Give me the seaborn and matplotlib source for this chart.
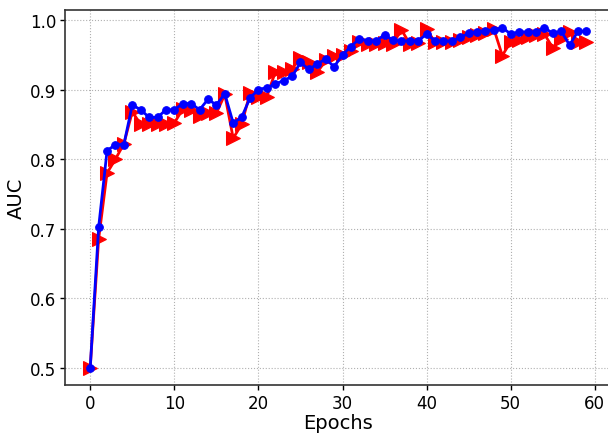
import matplotlib
matplotlib.use("Agg")
import matplotlib.pyplot as plt
import seaborn as sns
import numpy as np
import pandas as pd

epochs = list(range(60))

auc_red = [0.500, 0.685, 0.780, 0.800, 0.822, 0.868, 0.850, 0.850, 0.850, 0.850,
           0.852, 0.872, 0.870, 0.862, 0.866, 0.866, 0.893, 0.830, 0.850, 0.895,
           0.890, 0.890, 0.925, 0.926, 0.930, 0.945, 0.940, 0.925, 0.942, 0.948,
           0.950, 0.956, 0.969, 0.966, 0.966, 0.967, 0.966, 0.986, 0.966, 0.967,
           0.987, 0.968, 0.968, 0.969, 0.972, 0.975, 0.978, 0.981, 0.987, 0.949,
           0.969, 0.972, 0.975, 0.978, 0.980, 0.960, 0.973, 0.983, 0.969, 0.969]

auc_blue = [0.500, 0.702, 0.812, 0.821, 0.821, 0.878, 0.871, 0.860, 0.860, 0.871,
            0.871, 0.880, 0.880, 0.871, 0.886, 0.878, 0.894, 0.852, 0.860, 0.888,
            0.900, 0.903, 0.908, 0.913, 0.919, 0.939, 0.929, 0.937, 0.944, 0.933,
            0.950, 0.962, 0.973, 0.970, 0.970, 0.979, 0.971, 0.970, 0.970, 0.970,
            0.980, 0.970, 0.970, 0.970, 0.975, 0.981, 0.983, 0.985, 0.986, 0.989,
            0.980, 0.983, 0.983, 0.983, 0.989, 0.981, 0.984, 0.964, 0.984, 0.984]

df = pd.DataFrame({"Epochs": epochs, "red": auc_red, "blue": auc_blue})

sns.set_style("white")
plt.rcParams['font.family'] = ['DejaVu Sans']

fig = plt.figure(figsize=(6.08, 4.35), dpi=100)
ax = fig.add_axes([0.1076, 0.1133, 0.8977, 0.8614])

sns.lineplot(data=df, x="Epochs", y="red", ax=ax, color="red", marker=">",
             markersize=10.5, markeredgecolor="red", linewidth=2, zorder=2)
sns.lineplot(data=df, x="Epochs", y="blue", ax=ax, color="blue", marker="o",
             markersize=5.5, markeredgecolor="blue", linewidth=2, zorder=3)

ax.set_xlim(-2.95, 61.95)
ax.set_ylim(0.4755, 1.0145)
ax.set_xticks([0, 10, 20, 30, 40, 50, 60])
ax.set_yticks([0.5, 0.6, 0.7, 0.8, 0.9, 1.0])
ax.grid(True, linestyle=":", color="#b0b0b0", linewidth=0.8)
ax.set_axisbelow(True)
ax.tick_params(axis="both", labelsize=12, direction="out", length=3.5, width=1,
               left=True, bottom=True, colors="black", pad=3)
for s in ["left", "bottom", "top"]:
    ax.spines[s].set_color("#333333")
    ax.spines[s].set_linewidth(1.2)
ax.spines["right"].set_visible(False)
ax.set_xlabel("Epochs", fontsize=14, labelpad=1, color="black")
ax.set_ylabel("AUC", fontsize=14, labelpad=3, color="black")

fig.savefig("out.png", dpi=100)
